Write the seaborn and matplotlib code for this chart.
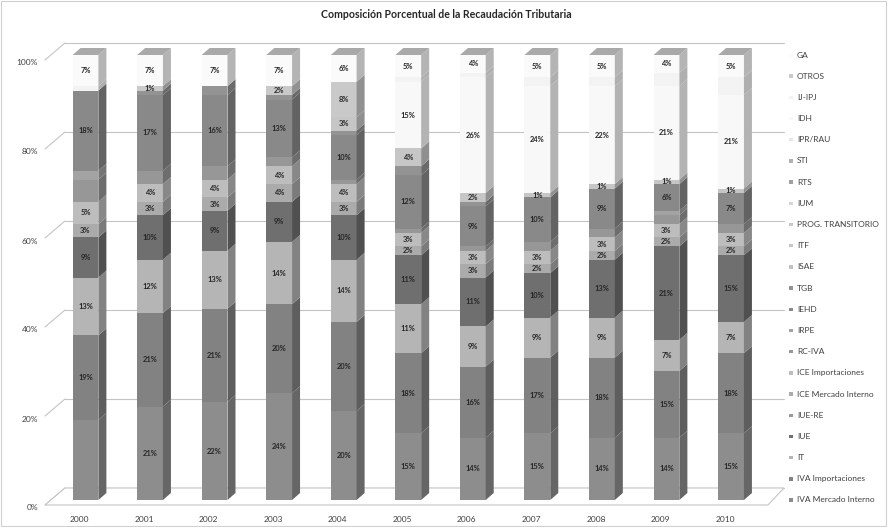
import numpy as np
import pandas as pd
import matplotlib
matplotlib.use("Agg")
import matplotlib.pyplot as plt
from matplotlib.patches import Polygon, Rectangle
from matplotlib.colors import to_rgb
import seaborn as sns

# ---------------------------------------------------------------------------
# Data: share (%) of each tax in total collection, 2000-2010
# ---------------------------------------------------------------------------
years = ["2000", "2001", "2002", "2003", "2004", "2005",
         "2006", "2007", "2008", "2009", "2010"]

# stacking order, bottom to top
taxes = ["IVA Mercado Interno", "IVA Importaciones", "IT", "IUE", "IUE-RE",
         "ICE Mercado Interno", "ICE Importaciones", "RC-IVA", "IRPE", "IEHD",
         "TGB", "ISAE", "ITF", "PROG. TRANSITORIO", "IUM", "RTS", "STI",
         "IPR/RAU", "IDH", "IJ-IPJ", "OTROS", "GA"]

iva_mi   = [18, 21, 22, 24, 20, 15, 14, 15, 14, 14, 15]
iva_imp  = [19, 21, 21, 20, 20, 18, 16, 17, 18, 15, 18]
it_      = [13, 12, 13, 14, 14, 11, 9, 9, 9, 7, 7]
iue      = [9, 10, 9, 9, 10, 11, 11, 10, 13, 21, 15]
iue_re   = [0, 0, 0, 0, 0, 0, 0, 0, 0, 0, 0]
ice_mi   = [3, 3, 3, 4, 3, 2, 3, 2, 2, 2, 2]
ice_imp  = [5, 4, 4, 4, 4, 3, 3, 3, 3, 3, 3]
rc_iva   = [5, 3, 3, 2, 1, 1, 1, 2, 2, 2, 2]
irpe     = [2, 0, 0, 0, 0, 0, 0, 0, 0, 1, 0]
iehd     = [18, 17, 16, 13, 10, 12, 9, 10, 9, 6, 7]
tgb      = [0, 1, 2, 1, 1, 2, 1, 0, 0, 0, 0]
isae     = [0, 0, 0, 0, 0, 0, 0, 0, 0, 0, 0]
itf      = [0, 0, 0, 0, 3, 4, 2, 1, 1, 1, 1]
prog_tr  = [0, 0, 0, 2, 8, 0, 0, 0, 0, 0, 0]
ium      = [0, 0, 0, 0, 0, 0, 0, 0, 0, 0, 0]
rts      = [0, 0, 0, 0, 0, 0, 0, 0, 0, 0, 0]
sti      = [0, 0, 0, 0, 0, 0, 0, 0, 0, 0, 0]
ipr_rau  = [0, 0, 0, 0, 0, 0, 0, 0, 0, 0, 0]
idh      = [0, 0, 0, 0, 0, 15, 26, 24, 22, 21, 21]
ij_ipj   = [1, 0, 0, 0, 0, 1, 1, 2, 2, 3, 4]
otros    = [0, 1, 0, 0, 0, 0, 0, 0, 0, 0, 0]
ga       = [7, 7, 7, 7, 6, 5, 4, 5, 5, 4, 5]

shares = {
    "IVA Mercado Interno": iva_mi, "IVA Importaciones": iva_imp, "IT": it_,
    "IUE": iue, "IUE-RE": iue_re, "ICE Mercado Interno": ice_mi,
    "ICE Importaciones": ice_imp, "RC-IVA": rc_iva, "IRPE": irpe,
    "IEHD": iehd, "TGB": tgb, "ISAE": isae, "ITF": itf,
    "PROG. TRANSITORIO": prog_tr, "IUM": ium, "RTS": rts, "STI": sti,
    "IPR/RAU": ipr_rau, "IDH": idh, "IJ-IPJ": ij_ipj, "OTROS": otros, "GA": ga,
}

# segments whose value label is not printed
unlabeled_taxes = ["RC-IVA", "IRPE", "TGB", "IJ-IPJ"]
unlabeled_cells = [("IVA Mercado Interno", "2000")]

# grey shades per tax
palette = {
    "IVA Mercado Interno": "#8d8d8d", "IVA Importaciones": "#828282",
    "IT": "#b5b5b5", "IUE": "#6f6f6f", "IUE-RE": "#9a9a9a",
    "ICE Mercado Interno": "#ababab", "ICE Importaciones": "#bdbdbd",
    "RC-IVA": "#979797", "IRPE": "#a3a3a3", "IEHD": "#898989",
    "TGB": "#939393", "ISAE": "#c2c2c2", "ITF": "#c6c6c6",
    "PROG. TRANSITORIO": "#c9c9c9", "IUM": "#d6d6d6", "RTS": "#a0a0a0",
    "STI": "#b0b0b0", "IPR/RAU": "#e6e6e6", "IDH": "#f8f8f8",
    "IJ-IPJ": "#f3f3f3", "OTROS": "#cacaca", "GA": "#fafafa",
}

title = "Composición Porcentual de la Recaudación Tributaria"
ytick_values = [0, 20, 40, 60, 80, 100]

# ---------------------------------------------------------------------------
sns.set_theme(style="white")
plt.rcParams["font.family"] = ["Lato", "DejaVu Sans"]

W, H = 888, 527
fig = plt.figure(figsize=(W / 100, H / 100), dpi=100)
fig.patch.set_facecolor("white")

# axes: x in year index, y in percent
ax_left, ax_right = 53.2, 763.3
ax_bottom_px, ax_top_px = 500, 55
ax = fig.add_axes([ax_left / W, (H - ax_bottom_px) / H,
                   (ax_right - ax_left) / W, (ax_bottom_px - ax_top_px) / H])
ax.set_xlim(-0.5, 10.5)
ax.set_ylim(0, 100)

px_x = (ax_right - ax_left) / 11.0      # pixels per year unit
px_y = (ax_bottom_px - ax_top_px) / 100.0  # pixels per percent

def dxu(px):
    return px / px_x

def dyu(px):
    return px / px_y

# depth geometry of the pseudo-3D box
front_dy = -dyu(5)
back_dy = dyu(12)
x_front_left, x_back_left = dxu(45 - 85.5), dxu(65 - 85.5)
x_front_right, x_back_right = dxu(768 - 85.5), dxu(784 - 85.5)
grid_col = "#c4c4c4"

# back wall grid lines
for v in ytick_values:
    ax.plot([x_back_left, x_back_right], [v + back_dy, v + back_dy],
            color=grid_col, lw=0.8, clip_on=False, zorder=0)
    # side wall slants
    ax.plot([x_front_left, x_back_left], [v + front_dy, v + back_dy],
            color=grid_col, lw=0.8, clip_on=False, zorder=0)
    ax.text(x_front_left - dxu(7), v + front_dy - dyu(3), f"{v}%",
            ha="right", va="center", fontsize=6, color="#404040", clip_on=False)

# floor
floor = Polygon([(x_front_left, front_dy), (x_front_right, front_dy),
                 (x_back_right, back_dy), (x_back_left, back_dy)],
                closed=True, facecolor="white", edgecolor=grid_col, lw=0.8,
                clip_on=False, zorder=0.5)
ax.add_patch(floor)

# front faces of the stacked bars (seaborn stacks the first hue level on top)
pos = np.arange(len(years))
df = pd.DataFrame([
    {"pos": i, "year": y, "tax": t, "share": shares[t][i]}
    for t in taxes for i, y in enumerate(years)
])
bar_w = 0.40
sns.histplot(data=df, x="pos", weights="share", hue="tax",
             hue_order=taxes[::-1], multiple="stack", discrete=True,
             shrink=bar_w, palette=palette, alpha=1, linewidth=0,
             legend=False, ax=ax, zorder=2)
ax.set_xlim(-0.5, 10.5)
ax.set_ylim(0, 100)
ax.set_axis_off()

# side and top faces
depth_x, depth_y = dxu(8), dyu(7)
values = np.array([shares[t] for t in taxes], dtype=float)
bottoms = np.vstack([np.zeros(len(years)), np.cumsum(values, axis=0)[:-1]])
for k, t in enumerate(taxes):
    base = np.array(to_rgb(palette[t]))
    side = tuple(base * 0.72)
    for i in range(len(years)):
        v = values[k, i]
        if v <= 0:
            continue
        b = bottoms[k, i]
        xr = pos[i] + bar_w / 2
        ax.add_patch(Polygon([(xr, b), (xr, b + v), (xr + depth_x, b + v + depth_y),
                              (xr + depth_x, b + depth_y)], closed=True,
                             facecolor=side, edgecolor="none", zorder=2,
                             clip_on=False))
        show = (t not in unlabeled_taxes) and ((t, years[i]) not in unlabeled_cells)
        if show:
            ax.text(pos[i], b + v / 2, f"{v:.0f}%", ha="center", va="center",
                    fontsize=5.4, fontweight="bold", color="#262626", zorder=4)

totals = values.sum(axis=0)
for i in range(len(years)):
    xl, xr = pos[i] - bar_w / 2, pos[i] + bar_w / 2
    top = totals[i]
    ax.add_patch(Polygon([(xl, top), (xr, top), (xr + depth_x, top + depth_y),
                          (xl + depth_x, top + depth_y)], closed=True,
                         facecolor="#a9a9a9", edgecolor="none", zorder=2,
                         clip_on=False))
    ax.text(pos[i] - dxu(6), -dyu(19), years[i], ha="center", va="center",
            fontsize=6, color="#404040", clip_on=False)

# legend, top entry first
leg_x = dxu(791 - 85.5)
n = len(taxes)
for j, t in enumerate(reversed(taxes)):
    yy = 100 - j * 100 / (n - 1)
    ax.scatter([leg_x], [yy], marker="s", s=6, color=palette[t],
               edgecolors="none", clip_on=False, zorder=3)
    ax.text(leg_x + dxu(6), yy, t, ha="left", va="center", fontsize=6,
            color="#404040", clip_on=False)

fig.text(446 / W, 1 - 15 / H, title, ha="center", va="center",
         fontsize=7.6, fontweight="bold", color="#262626")

# outer frame
fig.add_artist(Rectangle((0.001, 0.001), 0.997, 0.997, transform=fig.transFigure,
                         fill=False, edgecolor="#d0d0d0", lw=0.8))

fig.savefig("out.png", dpi=100)
